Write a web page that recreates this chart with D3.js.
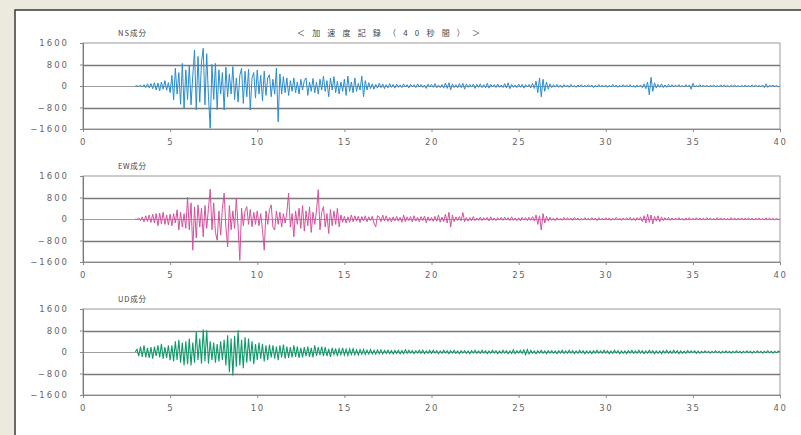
<!DOCTYPE html>
<html><head><meta charset="utf-8">
<script src="https://cdn.jsdelivr.net/npm/d3@7"></script>
<style>html,body{margin:0;padding:0;background:#ece9df;overflow:hidden}svg{display:block}</style>
</head><body><svg id="c" width="801" height="435"></svg>
<script>
// ---- data ----
const mainTitle = "＜加速度記録（40秒間）＞";
const componentNames = ["NS成分", "EW成分", "UD成分"];
const yTicks = [1600, 800, 0, -800, -1600];
const xTicks = [0, 5, 10, 15, 20, 25, 30, 35, 40];
const sampleStart = 3.0;   // seconds
const sampleStep = 0.1;    // seconds

const nsValues = [
 0,10,-20,30,-40,50,-60,80,-70,90,
 -100,120,-150,110,-180,150,-120,200,-160,130,
 -250,400,-520,660,-300,500,-680,840,-830,600,
 -500,760,-700,380,1340,-880,1100,-600,900,1400,
 -700,1200,-400,-1570,800,-500,840,-880,600,-300,
 500,-890,700,-400,450,-300,720,-500,300,-600,
 400,660,-650,550,-400,620,-890,300,500,-450,
 600,-300,400,-550,550,-350,300,420,-400,250,
 -300,660,-1330,450,-300,350,-250,300,-350,200,
 -200,300,-250,150,-300,250,-150,200,300,-350,
 150,-200,280,-250,150,-300,250,-150,370,-200,
 200,-400,300,-150,350,-250,180,-300,150,-200,
 250,-350,370,-200,150,-250,300,-200,100,-150,
 370,-400,200,-150,120,-100,80,-120,60,-80,
 100,-60,80,-100,50,-70,90,-50,60,-80,
 70,-50,40,-60,80,-40,50,-70,60,-30,
 50,-60,80,-40,60,-50,40,-90,70,-40,
 60,-50,90,-70,40,-60,50,-80,110,-90,
 120,-150,80,-60,50,-70,90,-60,100,-120,
 80,-50,60,-40,70,-90,60,-50,80,-60,
 50,-70,100,-80,60,-40,50,-60,70,-50,
 40,-60,90,-70,120,-100,60,-50,40,-60,
 70,-50,60,-80,50,-40,60,-70,100,-90,
 180,-250,300,-400,250,-200,150,-120,80,-60,
 50,-40,60,-50,40,-60,50,-30,40,-50,
 60,-40,30,-50,40,-30,50,-40,30,-40,
 50,-30,40,-60,30,-40,50,-30,40,-30,
 40,-50,30,-40,60,-30,40,-50,30,-40,
 50,-30,40,-30,50,-40,30,-50,40,-30,
 40,-60,80,-100,150,-330,320,-200,120,-80,
 60,-50,80,-60,40,-50,60,-40,50,-30,
 40,-30,50,-40,30,-40,50,-30,40,-120,
 100,-40,30,-40,50,-30,40,-30,30,-40,
 30,-20,40,-30,20,-30,40,-20,30,-20,
 20,-30,30,-20,40,-30,20,-30,30,-20,
 30,-20,20,-30,40,-20,30,-20,20,-30,
 40,-60,80,-50,30,-20,30,-20,20,-30,
 0];

const ewValues = [
 0,-20,40,-60,80,-100,120,-90,150,-130,
 180,-150,200,-250,220,-180,250,-200,150,-220,
 180,-250,200,-150,340,-410,250,-300,200,-350,
 810,-400,600,-1160,450,-700,525,-300,400,-660,
 500,-350,400,1110,-400,600,-500,-790,300,-600,
 400,960,-300,-1040,500,-400,300,-350,775,-300,
 -1540,400,-250,300,460,-200,350,-290,250,-200,
 300,-250,200,-400,-1160,300,-200,350,525,-300,
 -410,300,-200,250,-300,200,-150,250,960,-300,
 200,-660,300,-200,400,-350,500,-450,300,-250,
 450,-500,250,-200,300,1090,-400,250,460,-300,
 200,-540,350,-250,300,-200,400,-290,150,-120,
 100,-150,80,-120,150,-100,120,-80,100,-130,
 90,-70,120,-100,80,-60,100,-150,-290,120,
 80,-100,150,-80,120,-90,60,-110,80,-70,
 100,-80,60,-120,150,-100,80,-60,90,-110,
 120,-80,70,-100,90,-60,110,-140,80,-70,
 60,-90,100,-80,150,-120,70,-100,180,-150,
 250,-300,150,-100,80,-60,90,-70,240,-100,
 60,-80,50,-70,90,-60,40,-50,70,-60,
 50,-40,60,-70,80,-50,40,-60,50,-40,
 60,-50,70,-40,50,-60,80,-50,40,-60,
 50,-70,60,-40,50,-60,70,-50,90,-80,
 150,-200,120,-410,200,-150,100,-80,60,-50,
 40,-60,50,-40,30,-50,60,-40,50,-30,
 40,-50,60,-30,40,-50,30,-40,50,-30,
 30,-40,50,-30,40,-60,50,-40,30,-40,
 50,-30,40,-50,30,-40,60,-30,40,-50,
 40,-30,50,-40,60,-50,40,-60,50,-40,
 80,-100,120,-150,180,-120,150,-180,100,-80,
 120,-100,80,-60,50,-40,60,-50,40,-30,
 40,-30,50,-40,30,-50,40,-30,50,-40,
 30,-40,50,-30,40,-30,30,-40,50,-30,
 40,-30,30,-40,50,-30,40,-30,30,-40,
 30,-40,50,-30,40,-30,30,-20,40,-30,
 30,-20,40,-30,30,-40,30,-20,40,-30,
 20,-30,40,-20,30,-20,20,-30,20,-20,
 0];

const udValues = [
 0,100,-150,200,-180,250,-200,150,-220,180,
 -250,200,-150,250,-200,300,-250,180,-220,250,
 -300,250,-350,400,-300,450,-400,350,-500,400,
 -450,500,-500,350,-400,750,-300,500,-440,840,
 -350,810,-440,400,-300,350,-400,300,-350,400,
 -300,450,-500,620,-750,500,-870,600,-550,810,
 -500,450,-600,550,-400,500,-350,400,-450,300,
 -300,350,-250,300,-350,250,-300,280,-200,250,
 -250,200,-300,250,-200,280,-250,200,-220,180,
 -200,250,-180,200,-220,150,-200,180,-150,200,
 -180,150,-200,250,-150,180,-120,200,-150,180,
 -150,120,-180,150,-100,130,-150,120,-100,150,
 -120,100,-130,110,-90,120,-100,80,-110,90,
 -80,100,-90,70,-80,90,-70,60,-80,70,
 -60,80,-70,60,-50,70,-60,50,-70,60,
 -50,60,-70,50,-60,80,-50,60,-40,50,
 -60,50,-40,60,-50,70,-60,40,-50,60,
 -50,60,-40,50,-60,40,-50,60,-40,50,
 -60,50,-40,60,-50,40,-60,50,-40,50,
 -50,40,-60,50,-40,60,-50,40,-50,60,
 -40,50,-60,40,-50,60,-40,50,-60,40,
 -50,60,-40,50,-60,40,-50,80,-60,50,
 -40,60,-50,80,-100,90,-70,60,-50,40,
 -60,50,-40,60,-50,40,-60,50,-40,50,
 -50,40,-60,50,-40,60,-50,40,-50,60,
 -40,50,-60,40,-50,60,-40,50,-60,40,
 -50,40,-60,50,-40,60,-50,40,-50,60,
 -40,50,-60,40,-50,60,-40,50,-60,40,
 -50,40,-60,50,-40,60,-50,40,-50,60,
 -40,50,-60,40,-50,60,-40,50,-60,40,
 -50,40,-60,50,-40,60,-50,40,-50,60,
 -40,50,-60,40,-50,30,-40,50,-30,40,
 -30,40,-50,30,-40,30,-30,40,-30,30,
 -40,30,-30,40,-30,30,-40,30,-30,40,
 -30,30,-40,30,-30,40,-30,30,-40,30,
 -30,40,-30,30,-40,30,-30,40,-30,30,
 -40,30,-30,40,-30,30,-40,30,-30,30,
 0];

const seriesList = [nsValues, ewValues, udValues];
const seriesColors = ["#2a8ccf", "#d2529e", "#10996b"];
const seriesWidths = [1, 1, 1.1];

// ---- layout ----
const svg = d3.select("#c");
const W = 801, H = 435;
const plotLeft = 83, plotRight = 780, plotH = 86;
const panelTops = [43, 176, 309];
const fontStack = "'DejaVu Sans', 'Noto Sans CJK JP', sans-serif";

svg.append("rect").attr("x", 0).attr("y", 0).attr("width", W).attr("height", H).attr("fill", "#ece9df");
svg.append("rect").attr("x", 15).attr("y", 10).attr("width", W - 15).attr("height", H - 10).attr("fill", "#ffffff");
svg.append("path").attr("d", `M15,${H} L15,10 L${W},10`)
  .attr("fill", "none").attr("stroke", "#3a3a3a").attr("stroke-width", 1.5);

const x = d3.scaleLinear().domain([0, 40]).range([plotLeft, plotRight]);

// main title
svg.append("text").attr("x", 297).attr("y", 36)
  .attr("textLength", 183).attr("lengthAdjust", "spacing")
  .attr("font-family", "'Noto Sans CJK JP', sans-serif").attr("font-size", 8)
  .attr("fill", "#444").text(mainTitle);

panelTops.forEach((top, k) => {
  const y = d3.scaleLinear().domain([-1600, 1600]).range([top + plotH, top]);
  const g = svg.append("g");

  // frame
  g.append("rect").attr("x", plotLeft).attr("y", top).attr("width", plotRight - plotLeft).attr("height", plotH)
    .attr("fill", "none").attr("stroke", "#9a9a9a").attr("stroke-width", 1);

  // gridlines
  yTicks.filter(v => Math.abs(v) < 1600).forEach(v => {
    g.append("line").attr("x1", plotLeft).attr("x2", plotRight)
      .attr("y1", Math.round(y(v)) + 0.5).attr("y2", Math.round(y(v)) + 0.5)
      .attr("stroke", v === 0 ? "#a0a0a0" : "#7a7a7a").attr("stroke-width", v === 0 ? 1 : 1.3);
  });

  // y axis
  const ya = d3.axisLeft(y).tickValues(yTicks).tickFormat(d3.format("d")).tickSize(3).tickPadding(11);
  const yg = g.append("g").attr("transform", `translate(${plotLeft},0)`).call(ya);
  yg.select(".domain").attr("stroke", "#777");
  yg.selectAll(".tick line").attr("stroke", "#888");
  yg.selectAll("text").attr("font-family", fontStack).attr("font-size", 8.5)
    .attr("letter-spacing", 2).attr("fill", "#666");

  // x axis
  const xa = d3.axisBottom(x).tickValues(xTicks).tickFormat(d3.format("d")).tickSize(3).tickPadding(7);
  const xg = g.append("g").attr("transform", `translate(0,${top + plotH})`).call(xa);
  xg.select(".domain").attr("stroke", "#888");
  xg.selectAll(".tick line").attr("stroke", "#888");
  xg.selectAll("text").attr("font-family", fontStack).attr("font-size", 8.5)
    .attr("letter-spacing", 1.5).attr("fill", "#666");

  // component label
  g.append("text").attr("x", 118).attr("y", top - 7)
    .attr("textLength", 28).attr("lengthAdjust", "spacing")
    .attr("font-family", "'Noto Sans CJK JP', sans-serif").attr("font-size", 7.5)
    .attr("fill", "#444").text(componentNames[k]);

  // signal
  const vals = seriesList[k];
  const line = d3.line()
    .x((d, i) => x(sampleStart + i * sampleStep))
    .y(d => y(d));
  g.append("path").datum(vals).attr("d", line)
    .attr("fill", "none").attr("stroke", seriesColors[k]).attr("stroke-width", seriesWidths[k])
    .attr("stroke-linejoin", "miter");
});
</script></body></html>
